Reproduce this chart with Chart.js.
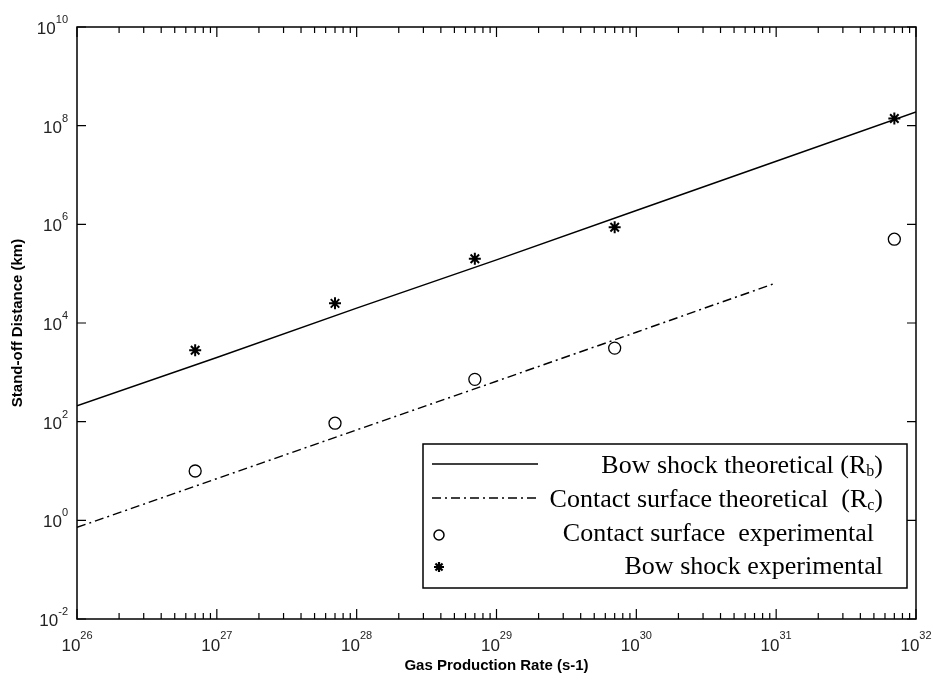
<!DOCTYPE html>
<html>
<head>
<meta charset="utf-8">
<script src="https://cdn.jsdelivr.net/npm/chart.js@4/dist/chart.umd.min.js"></script>
<style>
  html, body { margin:0; padding:0; background:#fff; }
  #c { display:block; }
</style>
</head>
<body>
<canvas id="c" width="933" height="680"></canvas>
<script>
// theoretical lines (values read at each decade)
var bowX = [1e26, 1e27, 1e28, 1e29, 1e30, 1e31, 1e32];
var bowY = [210, 2000, 2e4, 1.9e5, 1.9e6, 1.9e7, 1.9e8];
var contactX = [1e26, 1e27, 1e28, 1e29, 1e30, 1e31];
var contactY = [0.72, 7, 68, 660, 6500, 6.5e4];
// experimental points
var expX = [7e26, 7e27, 7e28, 7e29, 7e31];
var bowExpY = [2800, 25000, 2e5, 8.7e5, 1.4e8];
var contactExpY = [10, 93, 720, 3100, 5e5];
// axis ticks (exponents of ten)
var xTickExp = [26, 27, 28, 29, 30, 31, 32];
var yTickExp = [-2, 0, 2, 4, 6, 8, 10];
var xMinor = [2, 3, 4, 5, 6, 7, 8, 9];

var legendRows = [
  { kind: 'line', parts: [{ t: 'Bow shock theoretical (R' }, { t: 'b', sub: true }, { t: ')' }], right: 883 },
  { kind: 'dash', parts: [{ t: 'Contact surface theoretical  (R' }, { t: 'c', sub: true }, { t: ')' }], right: 883 },
  { kind: 'circle', parts: [{ t: 'Contact surface  experimental' }], right: 874 },
  { kind: 'star', parts: [{ t: 'Bow shock experimental' }], right: 883 }
];

function pts(xs, ys){ return xs.map(function(x, i){ return { x: x, y: ys[i] }; }); }

var dashPattern = [9, 4, 2, 4];

var decor = {
  id: 'decor',
  afterDraw: function(chart){
    var ctx = chart.ctx, a = chart.chartArea;
    var xs = chart.scales.x, ys = chart.scales.y;
    ctx.save();
    ctx.strokeStyle = '#000'; ctx.lineWidth = 1.5;
    ctx.strokeRect(a.left, a.top, a.right - a.left, a.bottom - a.top);

    // x ticks, bottom and top, inward
    ctx.lineWidth = 1.2;
    ctx.beginPath();
    xTickExp.forEach(function(e, i){
      var px = xs.getPixelForValue(Math.pow(10, e));
      ctx.moveTo(px, a.bottom); ctx.lineTo(px, a.bottom - 10);
      ctx.moveTo(px, a.top); ctx.lineTo(px, a.top + 10);
      if (i < xTickExp.length - 1) {
        xMinor.forEach(function(m){
          var p = xs.getPixelForValue(m * Math.pow(10, e));
          ctx.moveTo(p, a.bottom); ctx.lineTo(p, a.bottom - 6);
          ctx.moveTo(p, a.top); ctx.lineTo(p, a.top + 6);
        });
      }
    });
    yTickExp.forEach(function(e){
      var py = ys.getPixelForValue(Math.pow(10, e));
      ctx.moveTo(a.left, py); ctx.lineTo(a.left + 9, py);
      ctx.moveTo(a.right, py); ctx.lineTo(a.right - 9, py);
    });
    ctx.stroke();

    // tick labels 10^n
    ctx.fillStyle = '#222';
    var base = '17px "Liberation Sans", Arial, sans-serif';
    var sup = '11px "Liberation Sans", Arial, sans-serif';
    ctx.textBaseline = 'alphabetic';
    xTickExp.forEach(function(e){
      var px = xs.getPixelForValue(Math.pow(10, e));
      ctx.font = base; var w1 = ctx.measureText('10').width;
      ctx.font = sup; var w2 = ctx.measureText(String(e)).width;
      var x0 = px - (w1 + w2) / 2;
      ctx.font = base; ctx.textAlign = 'left'; ctx.fillText('10', x0, a.bottom + 32);
      ctx.font = sup; ctx.fillText(String(e), x0 + w1, a.bottom + 20);
    });
    yTickExp.forEach(function(e){
      var py = ys.getPixelForValue(Math.pow(10, e));
      ctx.font = sup; var w2 = ctx.measureText(String(e)).width;
      ctx.font = base; var w1 = ctx.measureText('10').width;
      var xr = a.left - 9;
      ctx.textAlign = 'left';
      ctx.fillText('10', xr - w2 - w1, py + 7);
      ctx.font = sup; ctx.fillText(String(e), xr - w2, py - 4);
    });

    // axis titles
    ctx.fillStyle = '#000';
    ctx.font = 'bold 15px "Liberation Sans", Arial, sans-serif';
    ctx.textAlign = 'center'; ctx.textBaseline = 'middle';
    ctx.fillText('Gas Production Rate (s-1)', (a.left + a.right) / 2, 666);
    ctx.save();
    ctx.translate(18, (a.top + a.bottom) / 2);
    ctx.rotate(-Math.PI / 2);
    ctx.fillText('Stand-off Distance (km)', 0, 0);
    ctx.restore();

    // legend box
    var bx = 423, by = 444, bw = 484, bh = 144;
    ctx.fillStyle = '#fff'; ctx.fillRect(bx, by, bw, bh);
    ctx.strokeStyle = '#000'; ctx.lineWidth = 1.5; ctx.strokeRect(bx, by, bw, bh);
    var rowY = [465, 499, 533, 566];
    legendRows.forEach(function(r, i){
      var y = rowY[i];
      ctx.strokeStyle = '#000'; ctx.fillStyle = '#000';
      if (r.kind === 'line' || r.kind === 'dash') {
        ctx.lineWidth = 1.5;
        ctx.setLineDash(r.kind === 'dash' ? dashPattern : []);
        ctx.beginPath(); ctx.moveTo(432, y - 1); ctx.lineTo(r.kind === 'dash' ? 540 : 538, y - 1); ctx.stroke();
        ctx.setLineDash([]);
      } else if (r.kind === 'circle') {
        ctx.lineWidth = 1.5;
        ctx.beginPath(); ctx.arc(439, y + 2, 5, 0, Math.PI * 2); ctx.stroke();
      } else {
        ctx.lineWidth = 2.2;
        ctx.beginPath();
        for (var k = 0; k < 4; k++) {
          var ang = k * Math.PI / 4;
          ctx.moveTo(439 - 5 * Math.cos(ang), y + 1 - 5 * Math.sin(ang));
          ctx.lineTo(439 + 5 * Math.cos(ang), y + 1 + 5 * Math.sin(ang));
        }
        ctx.stroke();
      }
      var mainF = '26px "Liberation Serif", "Times New Roman", serif';
      var subF = '16px "Liberation Serif", "Times New Roman", serif';
      var total = 0;
      r.parts.forEach(function(p){ ctx.font = p.sub ? subF : mainF; p.w = ctx.measureText(p.t).width; total += p.w; });
      var x = r.right - total;
      ctx.textAlign = 'left'; ctx.textBaseline = 'alphabetic';
      r.parts.forEach(function(p){
        ctx.font = p.sub ? subF : mainF;
        ctx.fillText(p.t, x, p.sub ? y + 11 : y + 8);
        x += p.w;
      });
    });
    ctx.restore();
  }
};

new Chart(document.getElementById('c'), {
  type: 'line',
  data: {
    datasets: [
      { label: 'Bow shock theoretical', data: pts(bowX, bowY), borderColor: '#000', borderWidth: 1.5, pointRadius: 0, fill: false, tension: 0 },
      { label: 'Contact surface theoretical', data: pts(contactX, contactY), borderColor: '#000', borderWidth: 1.5, borderDash: dashPattern, pointRadius: 0, fill: false, tension: 0 },
      { label: 'Contact surface experimental', data: pts(expX, contactExpY), showLine: false, pointStyle: 'circle', pointRadius: 6, pointBorderColor: '#000', pointBackgroundColor: 'rgba(0,0,0,0)', pointBorderWidth: 1.3 },
      { label: 'Bow shock experimental', data: pts(expX, bowExpY), showLine: false, pointStyle: 'star', pointRadius: 6, pointBorderColor: '#000', pointBackgroundColor: '#000', pointBorderWidth: 2 }
    ]
  },
  options: {
    responsive: false,
    animation: false,
    devicePixelRatio: 1,
    layout: { padding: { top: 27, right: 17, left: 0, bottom: 0 } },
    plugins: { legend: { display: false }, tooltip: { enabled: false } },
    scales: {
      x: {
        type: 'logarithmic', min: 1e26, max: 1e32,
        ticks: { display: false }, grid: { display: false }, border: { display: false },
        afterFit: function(s){ s.height = 61; }
      },
      y: {
        type: 'logarithmic', min: 1e-2, max: 1e10,
        ticks: { display: false }, grid: { display: false }, border: { display: false },
        afterFit: function(s){ s.width = 77; }
      }
    }
  },
  plugins: [decor]
});
</script>
</body>
</html>
